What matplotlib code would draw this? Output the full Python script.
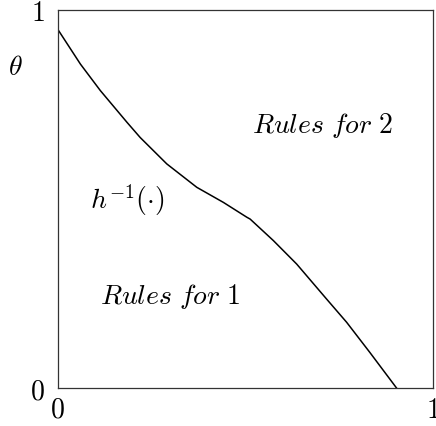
import numpy as np
import matplotlib
matplotlib.use("Agg")
import matplotlib.pyplot as plt

plt.rcParams['mathtext.fontset'] = 'cm'
plt.rcParams['font.family'] = 'serif'
plt.rcParams['font.serif'] = ['cmr10', 'DejaVu Serif']
plt.rcParams['axes.formatter.use_mathtext'] = True

# boundary curve theta = h^-1(x)
x_vals = [0.0, 0.061, 0.114, 0.185, 0.220, 0.291, 0.371, 0.442, 0.504,
          0.513, 0.575, 0.637, 0.717, 0.770, 0.832, 0.903]
theta_vals = [0.950, 0.857, 0.787, 0.703, 0.663, 0.593, 0.531, 0.491, 0.452,
              0.447, 0.390, 0.328, 0.235, 0.174, 0.094, 0.0]

tick_pos = [0, 1]
tick_labels = ['$0$', '$1$']

fig = plt.figure(figsize=(4.36, 4.27), dpi=100)
ax = fig.add_axes([0.132, 0.089, 0.861, 0.885])

ax.plot(x_vals, theta_vals, color='black', linewidth=1.1)

ax.set_xlim(0, 1)
ax.set_ylim(0, 1)
ax.set_xticks(tick_pos)
ax.set_xticklabels(tick_labels, fontsize=20)
ax.set_yticks(tick_pos)
ax.set_yticklabels(tick_labels, fontsize=20)
ax.tick_params(axis='x', length=0, pad=6)
ax.tick_params(axis='y', length=0, pad=9)
for s in ax.spines.values():
    s.set_linewidth(0.9)
    s.set_color('#333333')

ax.text(-0.113, 0.849, r'$\theta$', fontsize=20, ha='center', va='center',
        transform=ax.transAxes, clip_on=False)
ax.text(0.087, 0.50, r'$h^{-1}(\cdot)$', fontsize=20, ha='left', va='center')
ax.text(0.113, 0.246, r'$\mathit{Rules\ for\ 1}$', fontsize=20, ha='left', va='center')
ax.text(0.518, 0.698, r'$\mathit{Rules\ for\ 2}$', fontsize=20, ha='left', va='center')

fig.savefig('out.png', dpi=100)
